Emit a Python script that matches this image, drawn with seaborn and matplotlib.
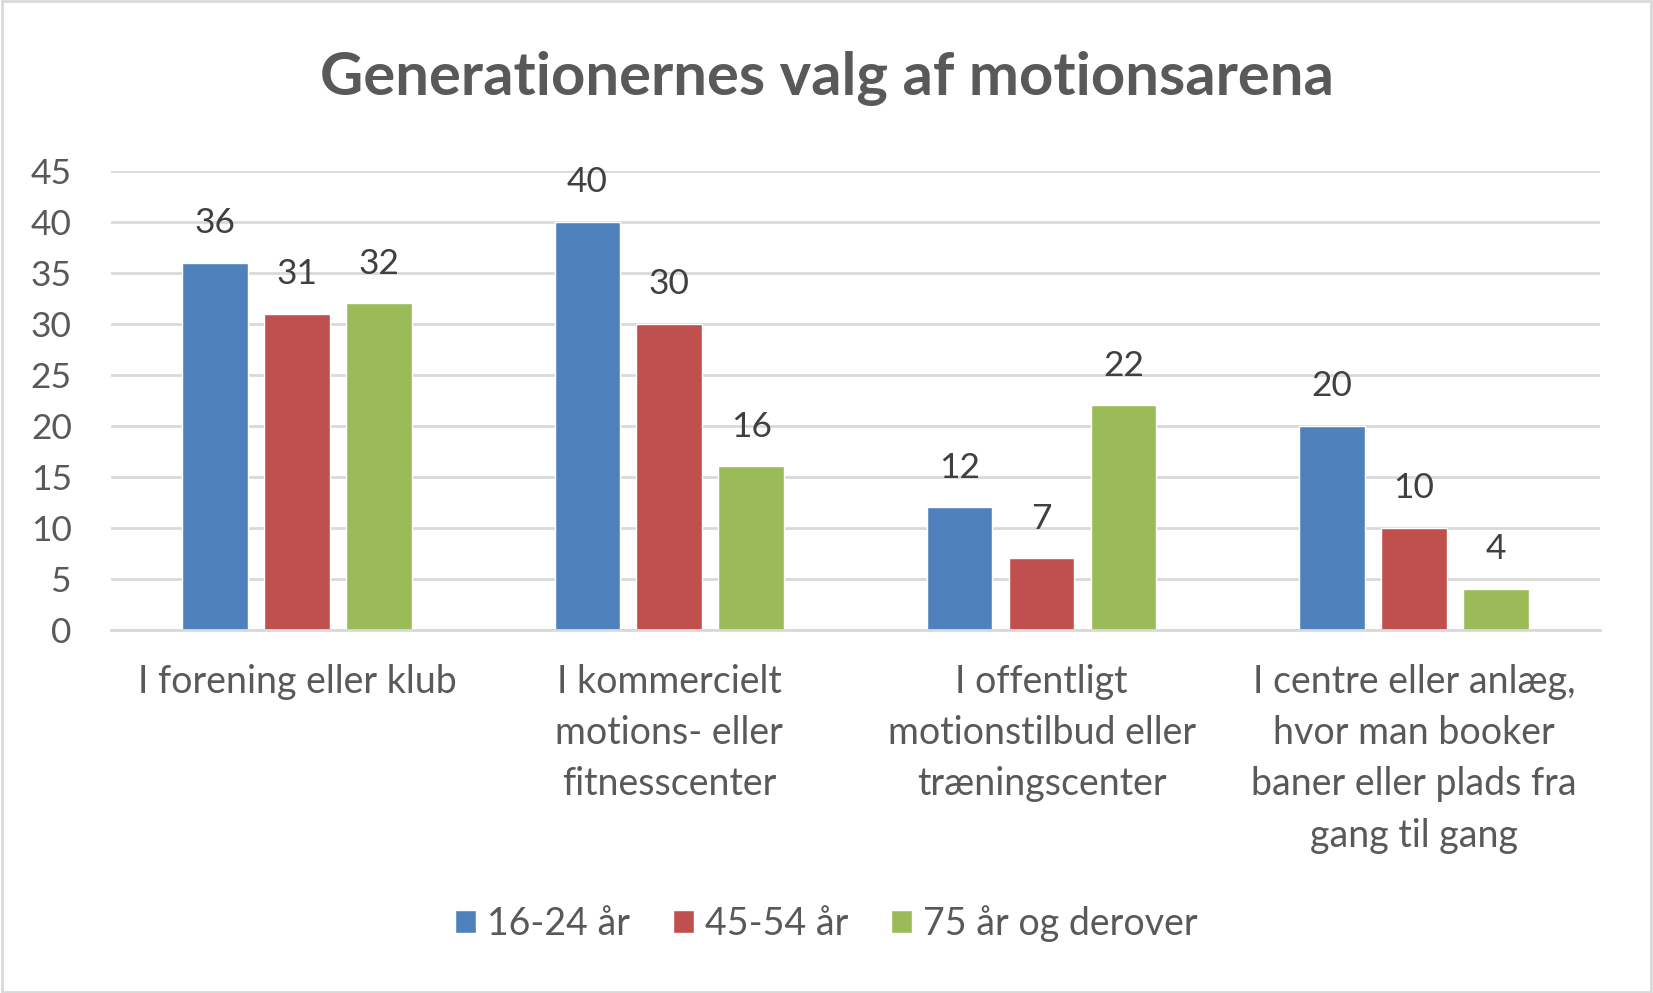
import matplotlib
matplotlib.use("Agg")
from matplotlib import pyplot as plt
from matplotlib.patches import Rectangle
import pandas as pd
import seaborn as sns

categories = [
    "I forening eller klub",
    "I kommercielt\nmotions- eller\nfitnesscenter",
    "I offentligt\nmotionstilbud eller\ntræningscenter",
    "I centre eller anlæg,\nhvor man booker\nbaner eller plads fra\ngang til gang",
]
groups = ["16-24 år", "45-54 år", "75 år og derover"]
values_16_24 = [36, 40, 12, 20]
values_45_54 = [31, 30, 7, 10]
values_75 = [32, 16, 22, 4]
yticks = [0, 5, 10, 15, 20, 25, 30, 35, 40, 45]

colors = ["#4F81BD", "#C0504D", "#9BBB59"]
text_grey = "#595959"

rows = []
for g, vals in zip(groups, [values_16_24, values_45_54, values_75]):
    for c, v in zip(categories, vals):
        rows.append({"arena": c, "gruppe": g, "andel": v})
df = pd.DataFrame(rows)

sns.set_theme(style="white")
plt.rcParams["font.family"] = ["Lato", "DejaVu Sans"]

fig = plt.figure(figsize=(16.53, 9.93), dpi=100)
ax = fig.add_axes([0.067, 0.366, 0.901, 0.462])

ax = sns.barplot(
    data=df, x="arena", y="andel", hue="gruppe",
    palette=colors, width=0.66, gap=0.2, saturation=1,
    errorbar=None, ax=ax,
)

for cont in ax.containers:
    ax.bar_label(cont, padding=17, fontsize=25.5, color="#404040")

ax.set_ylim(0, 45)
ax.set_yticks(yticks)
ax.yaxis.grid(True, color="#D9D9D9", linewidth=2)
ax.set_axisbelow(True)
for s in ["top", "right", "left"]:
    ax.spines[s].set_visible(False)
ax.spines["bottom"].set_color("#D9D9D9")
ax.spines["bottom"].set_linewidth(2)
ax.tick_params(axis="y", length=0, labelsize=25.5, labelcolor=text_grey, pad=28)
ax.tick_params(axis="x", length=0, labelsize=27, labelcolor=text_grey, pad=25)
for lbl in ax.get_xticklabels():
    lbl.set_linespacing(1.52)
    lbl.set_verticalalignment("top")
ax.set_xlabel("")
ax.set_ylabel("")

ax.legend(
    loc="center", bbox_to_anchor=(0.5, 0.07), bbox_transform=fig.transFigure,
    ncol=3, frameon=False, fontsize=27, labelcolor=text_grey,
    handlelength=0.55, handleheight=0.55, handletextpad=0.3, columnspacing=1.15,
)

fig.text(0.5, 0.921, "Generationernes valg af motionsarena", ha="center", va="center",
         fontsize=43, fontweight="bold", color=text_grey)

fig.patches.append(Rectangle((0.001, 0.001), 0.998, 0.998, transform=fig.transFigure,
                             fill=False, edgecolor="#D9D9D9", linewidth=2))

plt.savefig("out.png", dpi=100)
